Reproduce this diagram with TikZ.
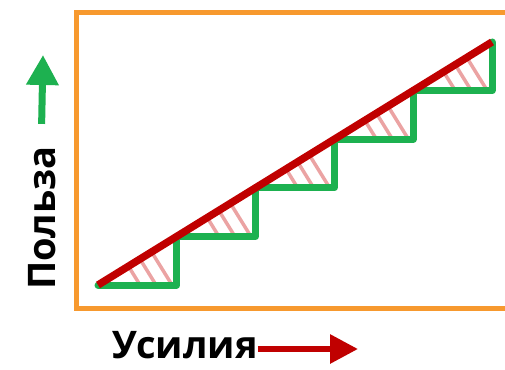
\documentclass[tikz,border=0pt]{standalone}
\usepackage{fontspec}
\setmainfont{Open Sans}
\usetikzlibrary{arrows.meta,positioning}
\definecolor{frameorange}{HTML}{F7992E}
\definecolor{stepgreen}{HTML}{1DB150}
\definecolor{trendred}{HTML}{C00000}
\definecolor{hatchpink}{HTML}{EBA3A3}

\begin{document}
\begin{tikzpicture}[x=1pt,y=-1pt,
  frame/.style={frameorange,line width=5pt},
  stairs/.style={stepgreen,line width=7pt,line join=round,line cap=round},
  trend/.style={trendred,line width=7.5pt},
  hatch/.style={hatchpink,line width=3.5pt},
  axislabel/.style={font=\fontsize{38}{38}\selectfont\bfseries,inner sep=0pt},
  gainarrow/.style={stepgreen,line width=7pt,-{Triangle[width=31pt,length=30pt]}},
  effortarrow/.style={trendred,line width=6pt,-{Triangle[width=28pt,length=28pt]}}]
\useasboundingbox (0,0) rectangle (505,369);
\draw[frame] (508,13) -- (76,13) -- (76,308) -- (508,308);
\foreach \i in {0,...,4}{
  \pgfmathsetmacro{\xa}{98+78.8*\i}
  \pgfmathsetmacro{\ya}{285-48.6*\i}
  \begin{scope}
    \clip (\xa,\ya) -- (\xa+78.8,\ya) -- (\xa+78.8,\ya-48.6) -- cycle;
    \foreach \d in {42,58,74}
      \draw[hatch] (\xa+\d-31.5,\ya-51) -- (\xa+\d+5.3,\ya+8.5);
  \end{scope}
}
\draw[stairs] (98,285) foreach \i in {0,...,4}{ -- ++(78.8,0) -- ++(0,-48.6) };
\draw[trend] (98,285) -- (492,42);
\node[axislabel,rotate=90,anchor=base] (benefit) at (55,218) {Польза};
\coordinate (benefittip) at (43,55);
\draw[gainarrow] ([yshift=22pt]benefit.east) -- (benefittip);
\node[axislabel,anchor=base west] (effort) at (112,358) {Усилия};
\coordinate (efforttip) at (358,349);
\draw[effortarrow] (effort.east |- efforttip) -- (efforttip);
\end{tikzpicture}
\end{document}
